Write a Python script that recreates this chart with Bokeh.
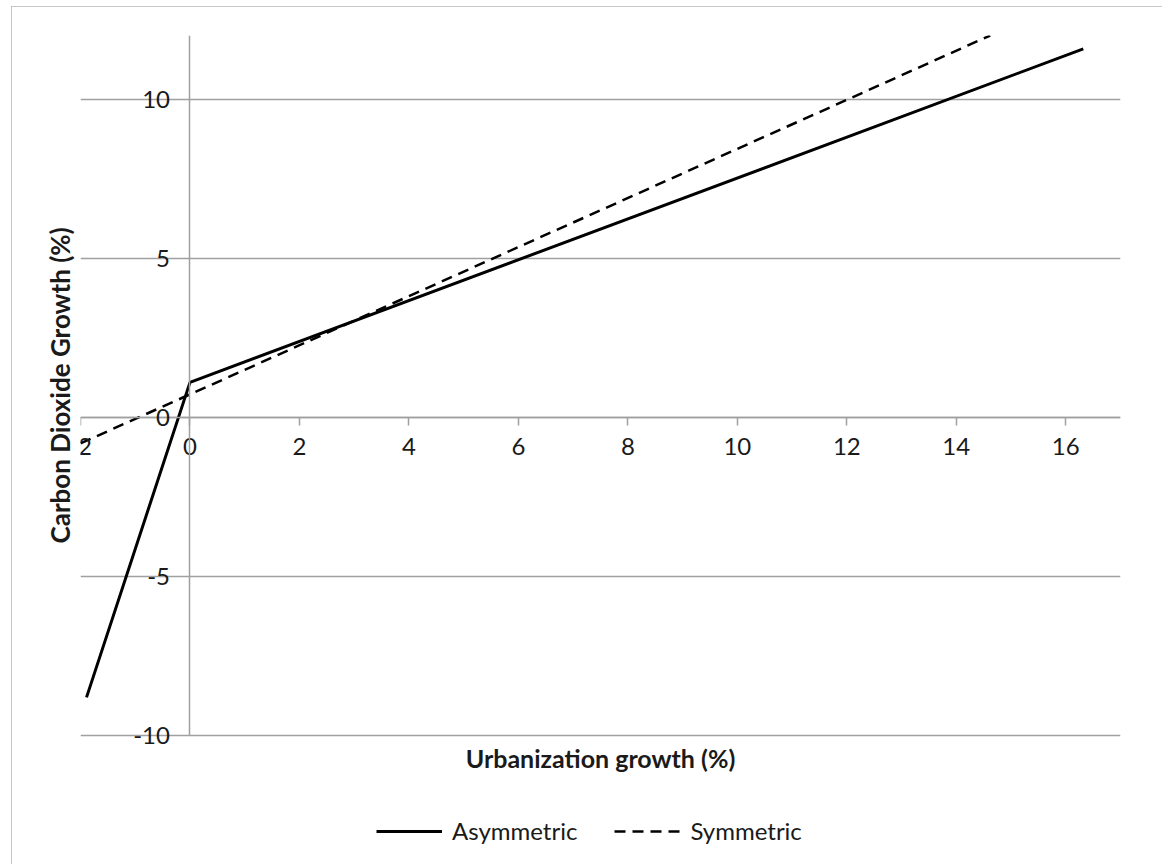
from bokeh.plotting import figure
from bokeh.models import Title, Legend, LegendItem, FixedTicker, Range1d, Label
from bokeh.embed import file_html
from bokeh.resources import INLINE

# ---- data ----
asym_x = [-1.89, 0.0, 16.32]
asym_y = [-8.8, 1.1, 11.58]
sym_x = [-2.0, 14.62]
sym_y = [-0.82, 12.0]
x_ticks = [-2, 0, 2, 4, 6, 8, 10, 12, 14, 16]
y_ticks = [-10, -5, 0, 5, 10]
series_names = ["Asymmetric", "Symmetric"]
x_title = "Urbanization growth (%)"
y_title = "Carbon Dioxide Growth (%)"

FONT = "Lato"
GRAY = "#a0a0a0"
TXT = "#1a1a1a"

p = figure(width=1151, height=858,
           x_range=Range1d(-2, 17), y_range=Range1d(-13.8, 12),
           output_backend="svg", toolbar_location=None,
           min_border_left=69, min_border_right=42,
           min_border_top=29, min_border_bottom=8,
           background_fill_color="white", border_fill_color="white",
           outline_line_color=None,
           styles={"outline": "2px solid #b4b4b4", "outline-offset": "-2px",
                   "position": "relative", "left": "11px", "top": "6px"})

# axes crossing at zero
for ax in (p.xaxis[0], p.yaxis[0]):
    ax.fixed_location = 0
    ax.axis_line_color = GRAY
    ax.axis_line_width = 1.5
    ax.major_tick_line_color = GRAY
    ax.major_tick_line_width = 1.5
    ax.minor_tick_line_color = None
    ax.major_tick_in = 0
    ax.major_label_text_font = FONT
    ax.major_label_text_font_size = "24px"
    ax.major_label_text_color = TXT

p.xaxis[0].ticker = FixedTicker(ticks=x_ticks)
p.xaxis[0].major_label_overrides = {t: str(t) for t in x_ticks}
p.xaxis[0].major_tick_out = 8
p.xaxis[0].major_label_standoff = 13
p.yaxis[0].ticker = FixedTicker(ticks=y_ticks)
p.yaxis[0].major_label_overrides = {t: str(t) for t in y_ticks}
p.yaxis[0].bounds = (-10, 12)
p.yaxis[0].major_tick_out = 0
p.yaxis[0].major_label_standoff = 20

p.xgrid.visible = False
p.ygrid.ticker = FixedTicker(ticks=y_ticks)
p.ygrid.grid_line_color = GRAY
p.ygrid.grid_line_width = 1.5

r1 = p.line(asym_x, asym_y, line_color="black", line_width=3)
r2 = p.line(sym_x, sym_y, line_color="black", line_width=2.5, line_dash="11 7")

# x-axis title (centred under the frame's data area)
p.add_layout(Label(x=7.5, y=-10.69, text=x_title, text_align="center",
                   text_baseline="middle", text_font=FONT,
                   text_font_size="25px", text_font_style="bold",
                   text_color=TXT))

legend = Legend(items=[LegendItem(label=series_names[0], renderers=[r1]),
                       LegendItem(label=series_names[1], renderers=[r2])],
                orientation="horizontal", location=(296, 11),
                glyph_width=66, label_standoff=10, spacing=37,
                label_text_font=FONT, label_text_font_size="24px",
                label_text_color=TXT, padding=0, margin=0,
                border_line_color=None, background_fill_alpha=0)
p.add_layout(legend, "center")

p.add_layout(Title(text=y_title, align="left", offset=313, text_font=FONT,
                   text_font_size="26px", text_font_style="bold",
                   text_color=TXT), "left")

open("out.html", "w").write(file_html(p, INLINE))
